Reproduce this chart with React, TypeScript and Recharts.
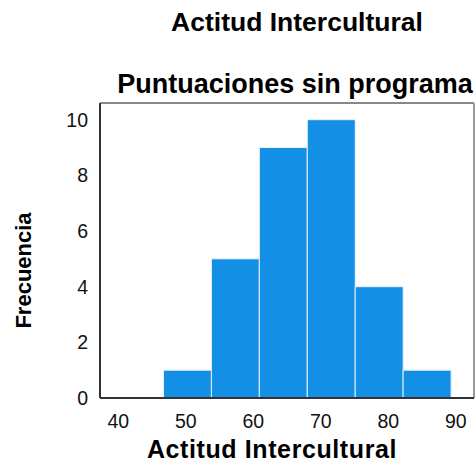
import { Bar, BarChart, Label, ReferenceLine, XAxis, YAxis } from "recharts";

const binCenters = [50.25, 57.35, 64.45, 71.55, 78.65, 85.75];
const counts = [1, 5, 9, 10, 4, 1];
const xTicks = [40, 50, 60, 70, 80, 90];
const yTicks = [0, 2, 4, 6, 8, 10];
const xDomain = [37.3, 92.7];
const yDomain = [0, 10.6];

const title = "Actitud Intercultural";
const subtitle = "Puntuaciones sin programa";
const xLabel = "Actitud Intercultural";
const yLabel = "Frecuencia";

const data = binCenters.map((x, i) => ({ x, count: counts[i] }));

const FONT = "'Liberation Sans', Arial, sans-serif";

export default function App() {
  return (
    <div style={{ position: "absolute", left: 0, top: 0, width: 475, height: 465, background: "#fff", fontFamily: FONT }}>
      <BarChart
        width={475}
        height={465}
        data={data}
        margin={{ top: 103, right: 1, bottom: 0, left: 0 }}
        barCategoryGap={0}
        barGap={0}
      >
        <XAxis
          dataKey="x"
          type="number"
          domain={xDomain}
          ticks={xTicks}
          allowDataOverflow
          height={67}
          tickLine={false}
          tickSize={0}
          tickMargin={16}
          axisLine={{ stroke: "#333", strokeWidth: 2 }}
          tick={{ fill: "#111", fontSize: 19.5, fontFamily: FONT }}
        >
          <Label
            content={({ viewBox }: any) => (
              <text
                x={272}
                y={viewBox.y + 60}
                textAnchor="middle"
                fontSize={25}
                letterSpacing={0.6}
                fontWeight="bold"
                fontFamily={FONT}
                fill="#000"
              >
                {xLabel}
              </text>
            )}
          />
        </XAxis>
        <YAxis
          type="number"
          domain={yDomain}
          ticks={yTicks}
          allowDataOverflow
          width={100}
          tickLine={false}
          tickSize={0}
          tickMargin={12}
          axisLine={{ stroke: "#333", strokeWidth: 2 }}
          tick={{ fill: "#111", fontSize: 19.5, fontFamily: FONT }}
        >
          <Label
            content={({ viewBox }: any) => {
              const cx = viewBox.x + 23;
              const cy = viewBox.y + viewBox.height / 2 + 20;
              return (
                <text
                  x={cx}
                  y={cy}
                  transform={`rotate(-90 ${cx} ${cy})`}
                  textAnchor="middle"
                  dominantBaseline="central"
                  fontSize={22}
                  fontWeight="bold"
                  fontFamily={FONT}
                  fill="#000"
                >
                  {yLabel}
                </text>
              );
            }}
          />
        </YAxis>
        <ReferenceLine y={yDomain[1]} stroke="#888" strokeWidth={2} />
        <ReferenceLine x={xDomain[1]} stroke="#999" strokeWidth={2} />
        <Bar dataKey="count" fill="#1390e6" stroke="#eaf4fd" strokeWidth={1} isAnimationActive={false} />
      </BarChart>
      <svg width={475} height={100} style={{ position: "absolute", left: 0, top: 0, pointerEvents: "none" }}>
        <text x={297} y={31} textAnchor="middle" fontSize={26.5} fontWeight="bold" fontFamily={FONT} fill="#000">
          {title}
        </text>
        <text x={295} y={93} textAnchor="middle" fontSize={27} fontWeight="bold" fontFamily={FONT} fill="#000">
          {subtitle}
        </text>
      </svg>
    </div>
  );
}
